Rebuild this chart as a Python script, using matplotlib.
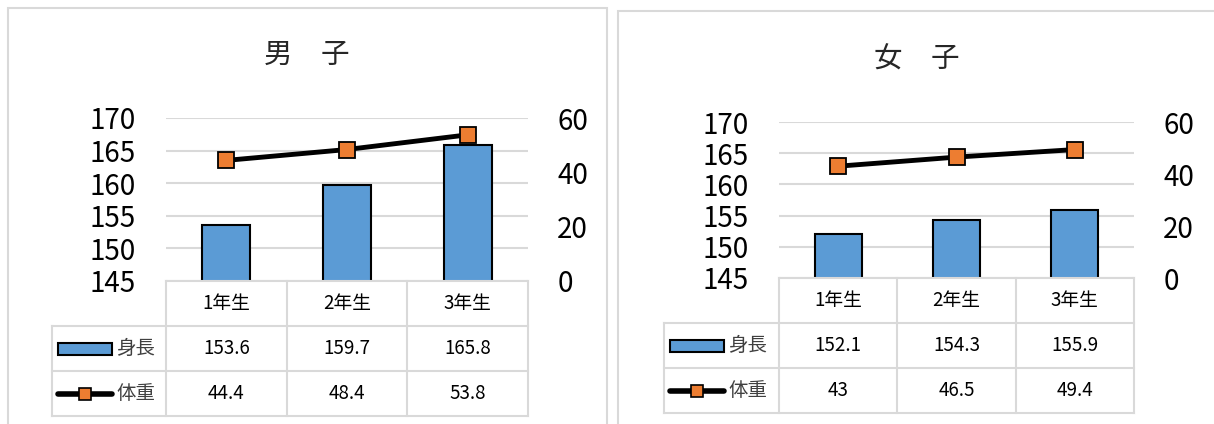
import matplotlib.pyplot as plt
from matplotlib.patches import Rectangle
from matplotlib.lines import Line2D

plt.rcParams['font.family'] = ['Noto Sans CJK JP', 'DejaVu Sans']

# DATA
grades = ['1年生', '2年生', '3年生']
series_names = ['身長', '体重']
boys_height = [153.6, 159.7, 165.8]
boys_weight = [44.4, 48.4, 53.8]
girls_height = [152.1, 154.3, 155.9]
girls_weight = [43, 46.5, 49.4]
height_ticks = [145, 150, 155, 160, 165, 170]
weight_ticks = [0, 20, 40, 60]

BAR_COLOR = '#5B9BD5'
MARK_COLOR = '#ED7D31'
GRID = '#d9d9d9'

W, H = 1214, 424
fig = plt.figure(figsize=(W / 100, H / 100), dpi=100)


def px_axes(l, t, r, b):
    return fig.add_axes([l / W, 1 - b / H, (r - l) / W, (b - t) / H])


def panel(box, plot, title, title_xy, heights, weights, row_px=45, legend_px=114):
    # outer chart frame
    x0, y0, x1, y1 = box
    fig.add_artist(Rectangle((x0 / W, 1 - y1 / H), (x1 - x0) / W, (y1 - y0) / H,
                             transform=fig.transFigure, fill=False, ec=GRID, lw=1.5))
    fig.text(title_xy[0] / W, 1 - title_xy[1] / H, title, fontsize=20.5,
             ha='center', va='center', color='#262626')

    l, t, r, b = plot
    ax = px_axes(l, t, r, b)
    x = list(range(len(grades)))
    ax.bar(x, heights, width=0.4, color=BAR_COLOR, edgecolor='black', linewidth=1.5, zorder=2)
    ax.set_xlim(-0.5, len(grades) - 0.5)
    ax.set_ylim(height_ticks[0], height_ticks[-1])
    ax.set_yticks(height_ticks)
    ax.set_xticks([])
    ax.tick_params(axis='y', length=0, pad=22, labelsize=20)
    ax.grid(axis='y', color=GRID, linewidth=1.5, zorder=0)
    ax.set_axisbelow(True)
    for s in ax.spines.values():
        s.set_visible(False)

    ax2 = ax.twinx()
    ax2.plot(x, weights, color='black', linewidth=3.5, marker='s', markersize=12,
             markerfacecolor=MARK_COLOR, markeredgecolor='black', markeredgewidth=1.3, zorder=3)
    ax2.set_ylim(weight_ticks[0], weight_ticks[-1])
    ax2.set_yticks(weight_ticks)
    ax2.tick_params(axis='y', length=0, pad=21, labelsize=20)
    for s in ax2.spines.values():
        s.set_visible(False)

    # data table below the plot
    tr = ax.get_xaxis_transform()
    rh = row_px / (b - t)
    unit = (r - l) / len(grades)
    leg = legend_px / unit
    left, right = -0.5, len(grades) - 0.5
    kw = dict(transform=tr, color=GRID, linewidth=1.5, clip_on=False)
    ax.add_line(Line2D([left, right], [0, 0], **kw))
    for k in (1, 2, 3):
        ax.add_line(Line2D([left - leg, right], [-k * rh, -k * rh], **kw))
    ax.add_line(Line2D([left - leg, left - leg], [-rh, -3 * rh], **kw))
    for xv in [left + i for i in range(len(grades) + 1)]:
        ax.add_line(Line2D([xv, xv], [0, -3 * rh], **kw))

    for i, g in enumerate(grades):
        ax.text(i, -0.5 * rh, g, transform=tr, ha='center', va='center', fontsize=13.5)
        ax.text(i, -1.5 * rh, f'{heights[i]:g}', transform=tr, ha='center', va='center', fontsize=13.5)
        ax.text(i, -2.5 * rh, f'{weights[i]:g}', transform=tr, ha='center', va='center', fontsize=13.5)

    # legend keys inside the table
    k0 = left - leg + 6 / unit
    k1 = left - leg + 60 / unit
    kh = 12 / (b - t)
    ax.add_patch(Rectangle((k0, -1.5 * rh - kh / 2), k1 - k0, kh, transform=tr,
                           facecolor=BAR_COLOR, edgecolor='black', linewidth=1.5, clip_on=False))
    ax.add_line(Line2D([k0, k1], [-2.5 * rh, -2.5 * rh], transform=tr, color='black',
                       linewidth=4, solid_capstyle='round', clip_on=False))
    ax.add_line(Line2D([(k0 + k1) / 2], [-2.5 * rh], transform=tr, marker='s', markersize=8.5,
                       markerfacecolor=MARK_COLOR, markeredgecolor='black',
                       markeredgewidth=1.2, clip_on=False))
    for j, name in enumerate(series_names):
        ax.text(left - leg + 64 / unit, -(1.5 + j) * rh, name, transform=tr,
                ha='left', va='center', fontsize=14, color='#404040')


panel((8, 8, 607, 440), (166, 118, 528, 281), '男　子', (307, 55),
      boys_height, boys_weight, row_px=45, legend_px=114)
panel((618, 11, 1230, 440), (779, 122, 1134, 278), '女　子', (917, 60),
      girls_height, girls_weight, row_px=45, legend_px=115)

plt.savefig('out.png', dpi=100)
